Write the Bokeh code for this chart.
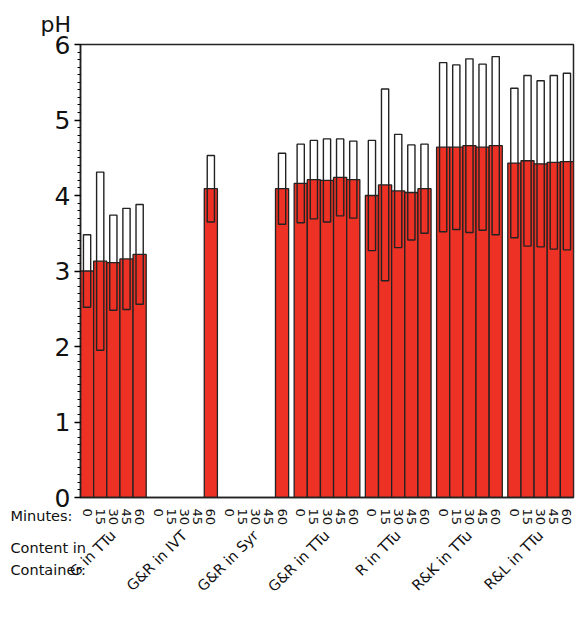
import math
from bokeh.plotting import figure
from bokeh.models import FactorRange, Range1d, ColumnDataSource, SingleIntervalTicker, Label
from bokeh.embed import file_html
from bokeh.resources import INLINE

groups = ["G in TTu", "G&R in IVT", "G&R in Syr", "G&R in TTu", "R in TTu", "R&K in TTu", "R&L in TTu"]
minutes = ["0", "15", "30", "45", "60"]

# mean pH per minute (None = not measured)
mean_g_ttu = [3.00, 3.13, 3.11, 3.16, 3.22]
mean_gr_ivt = [None, None, None, None, 4.09]
mean_gr_syr = [None, None, None, None, 4.09]
mean_gr_ttu = [4.16, 4.21, 4.20, 4.24, 4.21]
mean_r_ttu = [4.00, 4.14, 4.06, 4.04, 4.09]
mean_rk_ttu = [4.64, 4.64, 4.66, 4.64, 4.66]
mean_rl_ttu = [4.43, 4.46, 4.42, 4.44, 4.45]

# standard deviation per minute
sd_g_ttu = [0.48, 1.18, 0.63, 0.67, 0.66]
sd_gr_ivt = [None, None, None, None, 0.44]
sd_gr_syr = [None, None, None, None, 0.47]
sd_gr_ttu = [0.52, 0.52, 0.55, 0.51, 0.51]
sd_r_ttu = [0.73, 1.27, 0.75, 0.63, 0.59]
sd_rk_ttu = [1.12, 1.09, 1.15, 1.10, 1.18]
sd_rl_ttu = [0.99, 1.13, 1.10, 1.15, 1.17]

all_means = [mean_g_ttu, mean_gr_ivt, mean_gr_syr, mean_gr_ttu, mean_r_ttu, mean_rk_ttu, mean_rl_ttu]
all_sds = [sd_g_ttu, sd_gr_ivt, sd_gr_syr, sd_gr_ttu, sd_r_ttu, sd_rk_ttu, sd_rl_ttu]

factors = [(g, m) for g in groups for m in minutes]
xs, tops, los, his = [], [], [], []
for g, means, sds in zip(groups, all_means, all_sds):
    for m, mu, sd in zip(minutes, means, sds):
        if mu is None:
            continue
        xs.append((g, m))
        tops.append(mu)
        los.append(mu - sd)
        his.append(mu + sd)
src = ColumnDataSource(dict(x=xs, top=tops, lo=los, hi=his))

FONT = "DejaVu Sans"
p = figure(
    x_range=FactorRange(factors=factors, range_padding=0, group_padding=0.42, factor_padding=0),
    y_range=Range1d(0, 6),
    width=576, height=622,
    output_backend="svg", toolbar_location=None,
    min_border_left=80, min_border_right=3, min_border_top=44, min_border_bottom=125,
)
p.background_fill_color = "white"
p.border_fill_color = "white"
p.outline_line_color = "#222222"
p.outline_line_width = 1.5
p.xgrid.visible = False
p.ygrid.visible = False

p.vbar(x="x", top="top", bottom=0, width=1.0, source=src,
       fill_color="#ed3125", line_color="#222222", line_width=1.3)
p.vbar(x="x", top="hi", bottom="lo", width=0.55, source=src,
       fill_alpha=0, line_color="#222222", line_width=1.4)

ya = p.yaxis[0]
ya.ticker = SingleIntervalTicker(interval=1, num_minor_ticks=10)
ya.major_label_text_font = FONT
ya.major_label_text_font_size = "25px"
ya.major_label_text_color = "#111111"
ya.major_tick_out = 6
ya.major_tick_in = 0
ya.minor_tick_out = 3
ya.minor_tick_in = 0
ya.axis_line_color = "#222222"
ya.axis_line_width = 1.5
ya.major_tick_line_width = 1.5
ya.major_label_standoff = 4

xa = p.xaxis[0]
xa.major_label_orientation = "vertical"
xa.group_label_orientation = math.pi / 4
xa.major_tick_line_color = None
xa.minor_tick_line_color = None
xa.major_label_standoff = 5
xa.major_label_text_font = FONT
xa.major_label_text_font_size = "13px"
xa.major_label_text_color = "#111111"
xa.group_text_font = FONT
xa.group_text_font_size = "14.5px"
xa.group_text_font_style = "normal"
xa.group_text_color = "#111111"
xa.separator_line_color = None
xa.axis_line_color = "#222222"
xa.axis_line_width = 1.5


def make_label(txt, x, y, size, x_units="screen"):
    return Label(x=x, y=y, x_units=x_units, y_units="data", text=txt,
                 text_font=FONT, text_font_size=size, text_color="#111111",
                 text_align="left", text_baseline="middle")

# side panels are used so the texts are not clipped to the frame
p.add_layout(make_label("pH", -3.05, 6.27, "22px", x_units="data"), "left")
p.add_layout(make_label("Minutes:", -70, -0.25, "14.5px"), "above")
p.add_layout(make_label("Content in", -70, -0.67, "14.5px"), "above")
p.add_layout(make_label("Container:", -70, -0.96, "14.5px"), "below")

open("out.html", "w").write(file_html(p, INLINE))
